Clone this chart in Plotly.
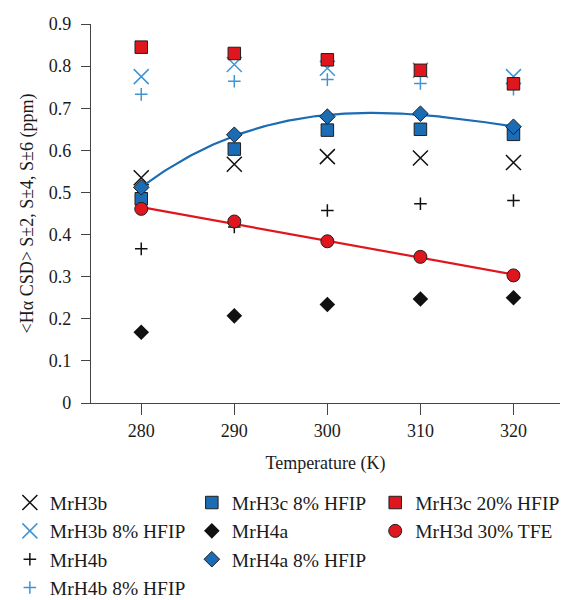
import numpy as np
import plotly.graph_objects as go

# Temperatures (K)
temperature = [280, 290, 300, 310, 320]

# <Hα CSD> values (ppm) per peptide / solvent condition
mrh3b = [0.535, 0.567, 0.585, 0.582, 0.571]
mrh3b_hfip8 = [0.775, 0.804, 0.795, 0.79, 0.775]
mrh4b = [0.366, 0.418, 0.457, 0.473, 0.481]
mrh4b_hfip8 = [0.733, 0.764, 0.768, 0.759, 0.745]
mrh3c_hfip8 = [0.485, 0.603, 0.648, 0.650, 0.638]
mrh4a = [0.168, 0.207, 0.234, 0.247, 0.250]
mrh4a_hfip8 = [0.512, 0.637, 0.680, 0.687, 0.656]
mrh3c_hfip20 = [0.845, 0.830, 0.815, 0.790, 0.758]
mrh3d_tfe30 = [0.461, 0.431, 0.384, 0.347, 0.303]

x_ticks = [280, 290, 300, 310, 320]
y_ticks = [0, 0.1, 0.2, 0.3, 0.4, 0.5, 0.6, 0.7, 0.8, 0.9]

BLACK = "#111111"
LIGHT_BLUE = "#3f95d4"
BLUE = "#1a6cb4"
RED = "#e0161f"
EDGE = "#1e1e1e"
FONT = "Liberation Serif"
TEXT = "#1a1a1a"

fig = go.Figure()


def add_points(y, name, symbol, size, color, legend, rank, line_w=0, line_col=None):
    marker = dict(symbol=symbol, size=size, color=color)
    if symbol.endswith("-thin"):
        marker["line"] = dict(color=color, width=line_w)
    else:
        marker["line"] = dict(color=line_col or color, width=line_w)
    fig.add_trace(go.Scatter(
        x=temperature, y=y, mode="markers", name=name, marker=marker,
        legend=legend, legendrank=rank, legendgroup=name,
    ))


def add_fit(y, deg, color):
    coeffs = np.polyfit(temperature, y, deg)
    xs = np.linspace(temperature[0], temperature[-1], 120)
    fig.add_trace(go.Scatter(
        x=xs, y=np.polyval(coeffs, xs), mode="lines",
        line=dict(color=color, width=2.2), showlegend=False, hoverinfo="skip",
    ))


add_points(mrh3b, "MrH3b", "x-thin", 15, BLACK, "legend", 1, 1.5)
add_points(mrh4b, "MrH4b", "cross-thin", 9, BLACK, "legend", 3, 1.5)
add_points(mrh3b_hfip8, "MrH3b 8% HFIP", "x-thin", 15, LIGHT_BLUE, "legend", 2, 1.5)
add_points(mrh4b_hfip8, "MrH4b 8% HFIP", "cross-thin", 9, LIGHT_BLUE, "legend", 4, 1.5)
add_points(mrh4a, "MrH4a", "diamond", 12, BLACK, "legend2", 2, 0)
add_points(mrh3c_hfip8, "MrH3c 8% HFIP", "square", 12.5, BLUE, "legend2", 1, 1, EDGE)
add_fit(mrh4a_hfip8, 3, BLUE)
add_points(mrh4a_hfip8, "MrH4a 8% HFIP", "diamond", 12, BLUE, "legend2", 3, 1, EDGE)
add_points(mrh3c_hfip20, "MrH3c 20% HFIP", "square", 12.5, RED, "legend3", 1, 1, EDGE)
add_fit(mrh3d_tfe30, 1, RED)
add_points(mrh3d_tfe30, "MrH3d 30% TFE", "circle", 13, RED, "legend3", 2, 1, EDGE)

legend_common = dict(
    font=dict(family=FONT, size=19.5, color=TEXT),
    bgcolor="rgba(0,0,0,0)", yanchor="top", xanchor="left",
    tracegroupgap=0, itemsizing="trace",
)

fig.update_layout(
    width=565, height=600,
    margin=dict(l=91, r=5, t=24, b=197, autoexpand=False),
    paper_bgcolor="white", plot_bgcolor="white",
    font=dict(family=FONT, size=18, color=TEXT),
    xaxis=dict(
        range=[274.6, 325], tickvals=x_ticks, ticks="outside", ticklen=11,
        tickcolor="#444444", showline=True, linecolor="#444444", linewidth=1.2,
        showgrid=False, zeroline=False,
        title=dict(text="Temperature (K)", font=dict(size=18), standoff=16),
        tickfont=dict(size=18),
    ),
    yaxis=dict(
        range=[0, 0.9], tickvals=y_ticks, ticktext=[f"{v:g}" for v in y_ticks],
        ticks="outside", ticklen=9, tickcolor="#444444",
        showline=True, linecolor="#444444", linewidth=1.2,
        showgrid=False, zeroline=False, ticklabelstandoff=6,
        title=dict(text="<Hα CSD> S±2, S±4, S±6 (ppm)", font=dict(size=18), standoff=10),
        tickfont=dict(size=18),
    ),
    legend=dict(x=-0.173, y=-0.212, **legend_common),
    legend2=dict(x=0.215, y=-0.212, **legend_common),
    legend3=dict(x=0.606, y=-0.212, **legend_common),
)

fig.write_html("out.html")
